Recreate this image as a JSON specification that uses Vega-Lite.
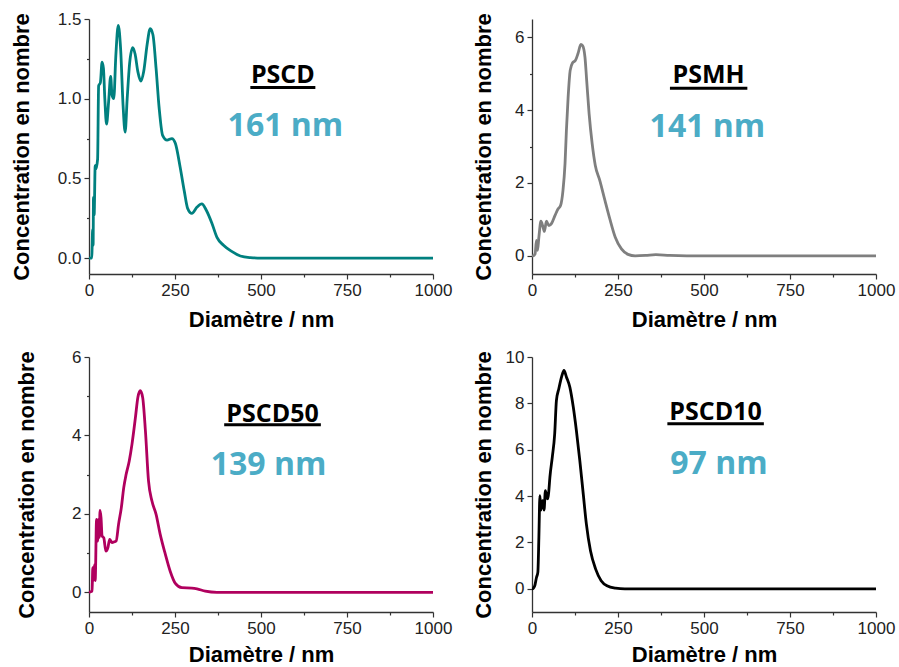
{
  "$schema": "https://vega.github.io/schema/vega-lite/v6.json",
  "background": "white",
  "padding": {"left": 10, "top": 10, "right": 5, "bottom": 5},
  "bounds": "flush",
  "columns": 2,
  "spacing": {"row": 83, "column": 99},
  "datasets": {
    "PSCD": [
      {"d": 0, "c": 0}, {"d": 8, "c": 0}, {"d": 9, "c": 0.06}, {"d": 10.5, "c": 0.18}, {"d": 12, "c": 0.08},
      {"d": 13, "c": 0.38}, {"d": 15, "c": 0.27}, {"d": 18, "c": 0.58}, {"d": 20, "c": 0.56}, {"d": 25, "c": 0.62},
      {"d": 28, "c": 1.08}, {"d": 33, "c": 1.10}, {"d": 38, "c": 1.23}, {"d": 42, "c": 1.19}, {"d": 46, "c": 1.0},
      {"d": 51, "c": 0.84}, {"d": 57, "c": 0.98}, {"d": 63, "c": 1.14}, {"d": 67, "c": 1.02}, {"d": 72, "c": 1.00},
      {"d": 78, "c": 1.27}, {"d": 85, "c": 1.46}, {"d": 92, "c": 1.31}, {"d": 99, "c": 0.96}, {"d": 105, "c": 0.79},
      {"d": 111, "c": 1.00}, {"d": 118, "c": 1.22}, {"d": 127, "c": 1.32}, {"d": 134, "c": 1.28}, {"d": 142, "c": 1.17},
      {"d": 151, "c": 1.11}, {"d": 159, "c": 1.17}, {"d": 169, "c": 1.34}, {"d": 178, "c": 1.44}, {"d": 186, "c": 1.40},
      {"d": 195, "c": 1.19}, {"d": 204, "c": 0.94}, {"d": 214, "c": 0.77}, {"d": 227, "c": 0.74}, {"d": 241, "c": 0.75},
      {"d": 251, "c": 0.72}, {"d": 265, "c": 0.57}, {"d": 277, "c": 0.42}, {"d": 287, "c": 0.31}, {"d": 299, "c": 0.28},
      {"d": 314, "c": 0.32}, {"d": 328, "c": 0.34}, {"d": 341, "c": 0.30}, {"d": 357, "c": 0.22}, {"d": 372, "c": 0.13},
      {"d": 391, "c": 0.08}, {"d": 416, "c": 0.04}, {"d": 440, "c": 0.013}, {"d": 469, "c": 0.003}, {"d": 500, "c": 0},
      {"d": 600, "c": 0}, {"d": 700, "c": 0}, {"d": 800, "c": 0}, {"d": 900, "c": 0}, {"d": 1000, "c": 0}
    ],
    "PSMH": [
      {"d": 0, "c": 0}, {"d": 4, "c": 0}, {"d": 9, "c": 0.05}, {"d": 13, "c": 0.42}, {"d": 16, "c": 0.15},
      {"d": 20, "c": 0.51}, {"d": 26, "c": 0.95}, {"d": 32, "c": 0.79}, {"d": 36, "c": 0.67}, {"d": 42, "c": 0.95},
      {"d": 49, "c": 0.83}, {"d": 57, "c": 0.89}, {"d": 67, "c": 1.11}, {"d": 76, "c": 1.29}, {"d": 83, "c": 1.38},
      {"d": 90, "c": 1.79}, {"d": 96, "c": 2.53}, {"d": 100, "c": 3.44}, {"d": 105, "c": 4.35}, {"d": 111, "c": 5.09},
      {"d": 118, "c": 5.30}, {"d": 126, "c": 5.36}, {"d": 134, "c": 5.56}, {"d": 142, "c": 5.80}, {"d": 147, "c": 5.77},
      {"d": 154, "c": 5.45}, {"d": 159, "c": 4.81}, {"d": 166, "c": 3.90}, {"d": 175, "c": 3.07}, {"d": 184, "c": 2.48},
      {"d": 197, "c": 2.07}, {"d": 212, "c": 1.52}, {"d": 226, "c": 1.02}, {"d": 242, "c": 0.51}, {"d": 260, "c": 0.19},
      {"d": 279, "c": 0.04}, {"d": 300, "c": 0}, {"d": 330, "c": 0.01}, {"d": 360, "c": 0.03}, {"d": 400, "c": 0.01},
      {"d": 450, "c": 0}, {"d": 600, "c": 0}, {"d": 800, "c": 0}, {"d": 1000, "c": 0}
    ],
    "PSCD50": [
      {"d": 0, "c": 0}, {"d": 9, "c": 0.03}, {"d": 11, "c": 0.63}, {"d": 13, "c": 0.3}, {"d": 16, "c": 0.71},
      {"d": 18, "c": 0.3}, {"d": 22, "c": 1.86}, {"d": 25, "c": 1.31}, {"d": 28, "c": 1.86}, {"d": 30, "c": 1.4},
      {"d": 32, "c": 2.09}, {"d": 35, "c": 1.9}, {"d": 38, "c": 1.44}, {"d": 43, "c": 1.39}, {"d": 49, "c": 1.05},
      {"d": 55, "c": 1.14}, {"d": 60, "c": 1.35}, {"d": 67, "c": 1.27}, {"d": 74, "c": 1.29}, {"d": 79, "c": 1.31},
      {"d": 86, "c": 1.74}, {"d": 94, "c": 2.16}, {"d": 101, "c": 2.67}, {"d": 108, "c": 3.01}, {"d": 117, "c": 3.35},
      {"d": 125, "c": 3.78}, {"d": 135, "c": 4.46}, {"d": 142, "c": 4.97}, {"d": 149, "c": 5.14}, {"d": 156, "c": 4.97},
      {"d": 164, "c": 4.12}, {"d": 173, "c": 2.84}, {"d": 183, "c": 2.33}, {"d": 195, "c": 1.99}, {"d": 207, "c": 1.48},
      {"d": 222, "c": 0.97}, {"d": 236, "c": 0.54}, {"d": 251, "c": 0.23}, {"d": 270, "c": 0.12}, {"d": 299, "c": 0.11},
      {"d": 314, "c": 0.09}, {"d": 338, "c": 0.03}, {"d": 372, "c": 0}, {"d": 600, "c": 0}, {"d": 800, "c": 0}, {"d": 1000, "c": 0}
    ],
    "PSCD10": [
      {"d": 0, "c": 0}, {"d": 1, "c": 0}, {"d": 8, "c": 0.13}, {"d": 13, "c": 0.49}, {"d": 17, "c": 0.71},
      {"d": 20, "c": 2.22}, {"d": 23, "c": 4.02}, {"d": 26, "c": 3.4}, {"d": 31, "c": 3.8}, {"d": 35, "c": 3.4},
      {"d": 39, "c": 4.24}, {"d": 43, "c": 3.95}, {"d": 46, "c": 3.88}, {"d": 49, "c": 4.24}, {"d": 52, "c": 4.81},
      {"d": 59, "c": 5.68}, {"d": 66, "c": 6.69}, {"d": 71, "c": 8.13}, {"d": 78, "c": 8.63}, {"d": 86, "c": 9.14},
      {"d": 93, "c": 9.42}, {"d": 100, "c": 9.14}, {"d": 110, "c": 8.70}, {"d": 120, "c": 7.84}, {"d": 129, "c": 6.83},
      {"d": 139, "c": 5.53}, {"d": 149, "c": 4.09}, {"d": 158, "c": 2.80}, {"d": 170, "c": 1.64}, {"d": 185, "c": 0.85},
      {"d": 201, "c": 0.35}, {"d": 218, "c": 0.13}, {"d": 243, "c": 0.03}, {"d": 270, "c": 0}, {"d": 600, "c": 0}, {"d": 1000, "c": 0}
    ]
  },
  "concat": [
    {
      "width": 344, "height": 255,
      "layer": [
        {
          "data": {"name": "PSCD"},
          "mark": {"type": "line", "color": "#00807f", "strokeWidth": 2.8, "interpolate": "monotone"},
          "encoding": {
            "x": {"field": "d", "type": "quantitative", "scale": {"domain": [0, 1000], "nice": false},
                  "axis": {"title": "Diamètre / nm", "titlePadding": 11, "values": [0, 125, 250, 375, 500, 625, 750, 875, 1000], "format": "d",
                           "labelExpr": "datum.value % 250 === 0 ? datum.label : ''",
                           "tickSize": {"condition": {"test": "datum.value % 250 === 0", "value": 5}, "value": 3}}},
            "y": {"field": "c", "type": "quantitative", "scale": {"domain": [-0.1, 1.5], "nice": false, "zero": false},
                  "axis": {"title": "Concentration en nombre", "titlePadding": 24, "values": [0, 0.25, 0.5, 0.75, 1, 1.25, 1.5], "format": ".1f",
                           "labelExpr": "round(datum.value * 4) % 2 === 0 ? datum.label : ''",
                           "tickSize": {"condition": {"test": "round(datum.value * 4) % 2 === 0", "value": 5}, "value": 2.5}}}
          }
        },
        {
          "data": {"values": [{"sample": "PSCD", "mean": "161 nm"}]},
          "layer": [
            {"mark": {"type": "text", "font": "Open Sans", "fontWeight": "bold", "fontSize": 25, "align": "center", "baseline": "alphabetic", "color": "#000"},
             "encoding": {"x": {"datum": 563.5, "type": "quantitative"}, "y": {"datum": 1.10, "type": "quantitative"}, "text": {"field": "sample"}}},
            {"mark": {"type": "rule", "color": "#000", "strokeWidth": 3},
             "encoding": {"x": {"datum": 469, "type": "quantitative"}, "x2": {"datum": 658}, "y": {"datum": 1.07, "type": "quantitative"}}},
            {"mark": {"type": "text", "font": "Open Sans", "fontWeight": "bold", "fontSize": 32, "align": "center", "baseline": "alphabetic", "color": "#4bacc6"},
             "encoding": {"x": {"datum": 571, "type": "quantitative"}, "y": {"datum": 0.764, "type": "quantitative"}, "text": {"field": "mean"}}}
          ]
        }
      ]
    },
    {
      "width": 344, "height": 255,
      "layer": [
        {
          "data": {"name": "PSMH"},
          "mark": {"type": "line", "color": "#7f7f7f", "strokeWidth": 2.8, "interpolate": "monotone"},
          "encoding": {
            "x": {"field": "d", "type": "quantitative", "scale": {"domain": [0, 1000], "nice": false},
                  "axis": {"title": "Diamètre / nm", "titlePadding": 11, "values": [0, 125, 250, 375, 500, 625, 750, 875, 1000], "format": "d",
                           "labelExpr": "datum.value % 250 === 0 ? datum.label : ''",
                           "tickSize": {"condition": {"test": "datum.value % 250 === 0", "value": 5}, "value": 3}}},
            "y": {"field": "c", "type": "quantitative", "scale": {"domain": [-0.5, 6.5], "nice": false, "zero": false},
                  "axis": {"title": "Concentration en nombre", "titlePadding": 19, "values": [0, 1, 2, 3, 4, 5, 6], "format": "d",
                           "labelExpr": "datum.value % 2 === 0 ? datum.label : ''",
                           "tickSize": {"condition": {"test": "datum.value % 2 === 0", "value": 5}, "value": 2.5}}}
          }
        },
        {
          "data": {"values": [{"sample": "PSMH", "mean": "141 nm"}]},
          "layer": [
            {"mark": {"type": "text", "font": "Open Sans", "fontWeight": "bold", "fontSize": 25, "align": "center", "baseline": "alphabetic", "color": "#000"},
             "encoding": {"x": {"datum": 513.5, "type": "quantitative"}, "y": {"datum": 4.75, "type": "quantitative"}, "text": {"field": "sample"}}},
            {"mark": {"type": "rule", "color": "#000", "strokeWidth": 3},
             "encoding": {"x": {"datum": 401, "type": "quantitative"}, "x2": {"datum": 626}, "y": {"datum": 4.60, "type": "quantitative"}}},
            {"mark": {"type": "text", "font": "Open Sans", "fontWeight": "bold", "fontSize": 32, "align": "center", "baseline": "alphabetic", "color": "#4bacc6"},
             "encoding": {"x": {"datum": 510, "type": "quantitative"}, "y": {"datum": 3.27, "type": "quantitative"}, "text": {"field": "mean"}}}
          ]
        }
      ]
    },
    {
      "width": 344, "height": 255,
      "layer": [
        {
          "data": {"name": "PSCD50"},
          "mark": {"type": "line", "color": "#b0005e", "strokeWidth": 2.8, "interpolate": "monotone"},
          "encoding": {
            "x": {"field": "d", "type": "quantitative", "scale": {"domain": [0, 1000], "nice": false},
                  "axis": {"title": "Diamètre / nm", "titlePadding": 8, "values": [0, 125, 250, 375, 500, 625, 750, 875, 1000], "format": "d",
                           "labelExpr": "datum.value % 250 === 0 ? datum.label : ''",
                           "tickSize": {"condition": {"test": "datum.value % 250 === 0", "value": 5}, "value": 3}}},
            "y": {"field": "c", "type": "quantitative", "scale": {"domain": [-0.5, 6], "nice": false, "zero": false},
                  "axis": {"title": "Concentration en nombre", "titlePadding": 33, "values": [0, 1, 2, 3, 4, 5, 6], "format": "d",
                           "labelExpr": "datum.value % 2 === 0 ? datum.label : ''",
                           "tickSize": {"condition": {"test": "datum.value % 2 === 0", "value": 5}, "value": 2.5}}}
          }
        },
        {
          "data": {"values": [{"sample": "PSCD50", "mean": "139 nm"}]},
          "layer": [
            {"mark": {"type": "text", "font": "Open Sans", "fontWeight": "bold", "fontSize": 25, "align": "center", "baseline": "alphabetic", "color": "#000"},
             "encoding": {"x": {"datum": 533.5, "type": "quantitative"}, "y": {"datum": 4.34, "type": "quantitative"}, "text": {"field": "sample"}}},
            {"mark": {"type": "rule", "color": "#000", "strokeWidth": 3},
             "encoding": {"x": {"datum": 393, "type": "quantitative"}, "x2": {"datum": 674}, "y": {"datum": 4.27, "type": "quantitative"}}},
            {"mark": {"type": "text", "font": "Open Sans", "fontWeight": "bold", "fontSize": 32, "align": "center", "baseline": "alphabetic", "color": "#4bacc6"},
             "encoding": {"x": {"datum": 522, "type": "quantitative"}, "y": {"datum": 2.99, "type": "quantitative"}, "text": {"field": "mean"}}}
          ]
        }
      ]
    },
    {
      "width": 344, "height": 255,
      "layer": [
        {
          "data": {"name": "PSCD10"},
          "mark": {"type": "line", "color": "#000000", "strokeWidth": 2.8, "interpolate": "monotone"},
          "encoding": {
            "x": {"field": "d", "type": "quantitative", "scale": {"domain": [0, 1000], "nice": false},
                  "axis": {"title": "Diamètre / nm", "titlePadding": 8, "values": [0, 125, 250, 375, 500, 625, 750, 875, 1000], "format": "d",
                           "labelExpr": "datum.value % 250 === 0 ? datum.label : ''",
                           "tickSize": {"condition": {"test": "datum.value % 250 === 0", "value": 5}, "value": 3}}},
            "y": {"field": "c", "type": "quantitative", "scale": {"domain": [-1, 10], "nice": false, "zero": false},
                  "axis": {"title": "Concentration en nombre", "titlePadding": 10, "values": [0, 1, 2, 3, 4, 5, 6, 7, 8, 9, 10], "format": "d",
                           "labelExpr": "datum.value % 2 === 0 ? datum.label : ''",
                           "tickSize": {"condition": {"test": "datum.value % 2 === 0", "value": 5}, "value": 2.5}}}
          }
        },
        {
          "data": {"values": [{"sample": "PSCD10", "mean": "97 nm"}]},
          "layer": [
            {"mark": {"type": "text", "font": "Open Sans", "fontWeight": "bold", "fontSize": 25, "align": "center", "baseline": "alphabetic", "color": "#000"},
             "encoding": {"x": {"datum": 533.5, "type": "quantitative"}, "y": {"datum": 7.28, "type": "quantitative"}, "text": {"field": "sample"}}},
            {"mark": {"type": "rule", "color": "#000", "strokeWidth": 3},
             "encoding": {"x": {"datum": 393.5, "type": "quantitative"}, "x2": {"datum": 674}, "y": {"datum": 7.12, "type": "quantitative"}}},
            {"mark": {"type": "text", "font": "Open Sans", "fontWeight": "bold", "fontSize": 32, "align": "center", "baseline": "alphabetic", "color": "#4bacc6"},
             "encoding": {"x": {"datum": 543.5, "type": "quantitative"}, "y": {"datum": 4.96, "type": "quantitative"}, "text": {"field": "mean"}}}
          ]
        }
      ]
    }
  ],
  "config": {
    "view": {"stroke": null},
    "axis": {
      "grid": false,
      "labelFont": "Liberation Sans", "labelFontSize": 17, "labelColor": "#222222", "labelPadding": 3,
      "titleFont": "Liberation Sans", "titleFontSize": 22, "titleFontWeight": "bold", "titleColor": "#000000",
      "domainColor": "#333333", "domainWidth": 1.3, "tickColor": "#333333", "tickWidth": 1.2
    },
    "axisX": {"labelFlush": false, "labelOverlap": false},
    "axisY": {"labelOverlap": false}
  }
}
